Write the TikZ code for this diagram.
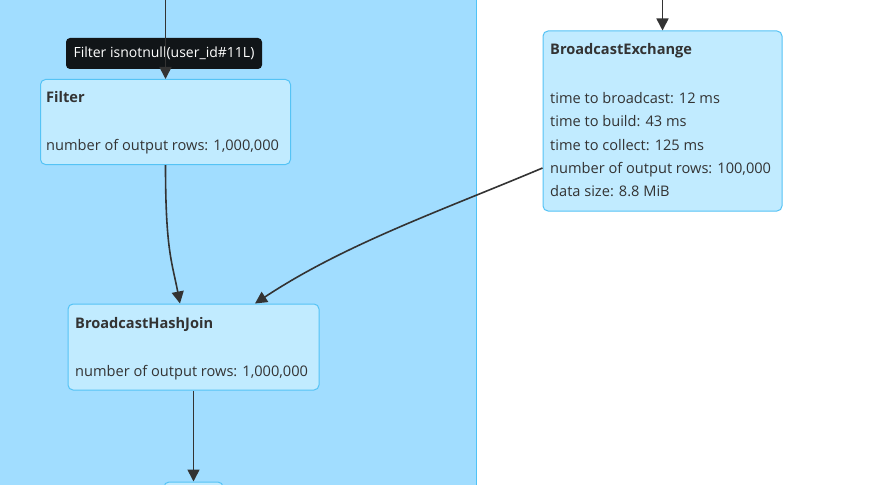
\documentclass[tikz,border=0pt]{standalone}
\usepackage{fontspec}
\setmainfont{Open Sans}
\usetikzlibrary{arrows.meta}
\definecolor{cluster}{HTML}{A1DDFF}
\definecolor{clusterline}{HTML}{4FC3F7}
\definecolor{nodefill}{HTML}{C1EBFF}
\definecolor{nodeline}{HTML}{55C3F5}
\definecolor{txt}{HTML}{333333}
\definecolor{edge}{HTML}{333333}
\definecolor{tip}{HTML}{111518}
\tikzset{
  opbox/.style={draw=nodeline, line width=1pt, fill=nodefill, rounded corners=5pt, minimum width=#1, inner sep=0pt},
  title/.style={anchor=mid west, inner sep=0pt, text=txt, font=\fontsize{14.6}{17}\selectfont\bfseries},
  metric/.style={anchor=mid west, inner sep=0pt, text=txt, font=\fontsize{14.6}{17}\selectfont},
  conn/.style={draw=edge, line width=1.6pt, -{Triangle[length=12pt,width=12pt]}},
  tooltip/.style={fill=tip, rounded corners=4pt, text=white, font=\fontsize{14}{17}\selectfont, inner sep=0pt}
}
\begin{document}
\begin{tikzpicture}[x=1pt,y=-1pt]
\useasboundingbox (0,0) rectangle (890,484);
\clip (0,0) rectangle (890,484);
\fill[white] (0,0) rectangle (890,484);
% cluster
\fill[cluster] (-5,-5) rectangle (476.5,490);
\draw[clusterline, line width=1.5pt] (476.5,-5) -- (476.5,490);

% boxes
\node[opbox=250pt, minimum height=85pt] (filter) at (165.5,122) {};
\node[opbox=239pt, minimum height=180pt] (be) at (662.5,121) {};
\node[opbox=251pt, minimum height=86pt] (bhj) at (193.5,347) {};
\node[opbox=59pt, minimum height=40pt] (next) at (193.5,502) {};

% texts
\node[title] (filtert) at (46,100) {Filter};
\node[metric] (filterm) at (46,148) {number of output rows: 1,000,000};

\node[title] (bet) at (550,52) {BroadcastExchange};
\node[metric] (bem1) at (550,101) {time to broadcast: 12 ms};
\node[metric] (bem2) at (550,124) {time to build: 43 ms};
\node[metric] (bem3) at (550,148) {time to collect: 125 ms};
\node[metric] (bem4) at (550,171) {number of output rows: 100,000};
\node[metric] (bem5) at (550,194) {data size: 8.8 MiB};

\node[title] (bhjt) at (75,326) {BroadcastHashJoin};
\node[metric] (bhjm) at (75,374) {number of output rows: 1,000,000};

% tooltip
\node[tooltip, minimum width=196pt, minimum height=31pt] (tt) at (164,53.5) {Filter isnotnull(user\_id\#11L)};

% connectors
\coordinate (in1) at (165.5,-2);
\coordinate (in2) at (662.5,-2);
\draw[conn] (in1) -- (filter.north);
\draw[conn] (in2) -- (be.north);
\draw[conn] (filter.south) .. controls (165.5,250) and (172,262) .. ([xshift=-13.5pt]bhj.north);
\draw[conn] ([yshift=-47pt]be.west) .. controls (443,210) and (345,244) .. ([xshift=61.5pt]bhj.north);
\draw[conn] (bhj.south) -- (next.north);
\end{tikzpicture}
\end{document}
